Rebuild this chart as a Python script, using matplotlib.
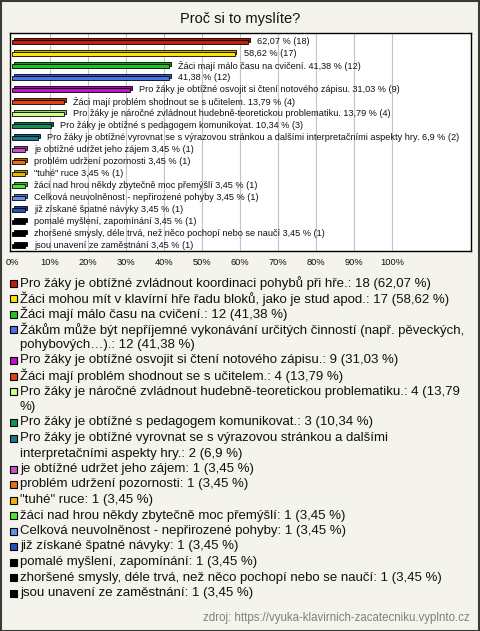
import numpy as np
import matplotlib
matplotlib.use("Agg")
import matplotlib.pyplot as plt
from matplotlib.patches import Rectangle
from matplotlib.colors import to_rgb

title = "Proč si to myslíte?"
source = "zdroj: https://vyuka-klavirnich-zacatecniku.vyplnto.cz"

categories = [
    "Pro žáky je obtížné zvládnout koordinaci pohybů při hře.",
    "Žáci mohou mít v klavírní hře řadu bloků, jako je stud apod.",
    "Žáci mají málo času na cvičení.",
    "Žákům může být nepříjemné vykonávání určitých činností (např. pěveckých, pohybových…).",
    "Pro žáky je obtížné osvojit si čtení notového zápisu.",
    "Žáci mají problém shodnout se s učitelem.",
    "Pro žáky je náročné zvládnout hudebně-teoretickou problematiku.",
    "Pro žáky je obtížné s pedagogem komunikovat.",
    "Pro žáky je obtížné vyrovnat se s výrazovou stránkou a dalšími interpretačními aspekty hry.",
    "je obtížné udržet jeho zájem",
    "problém udržení pozornosti",
    "\"tuhé\" ruce",
    "žáci nad hrou někdy zbytečně moc přemýšlí",
    "Celková neuvolněnost - nepřirozené pohyby",
    "již získané špatné návyky",
    "pomalé myšlení, zapomínání",
    "zhoršené smysly, déle trvá, než něco pochopí nebo se naučí",
    "jsou unavení ze zaměstnání",
]
counts = [18, 17, 12, 12, 9, 4, 4, 3, 2, 1, 1, 1, 1, 1, 1, 1, 1, 1]
percents = [62.07, 58.62, 41.38, 41.38, 31.03, 13.79, 13.79, 10.34, 6.9,
            3.45, 3.45, 3.45, 3.45, 3.45, 3.45, 3.45, 3.45, 3.45]
colors = ["#c41e0c", "#ffe600", "#1ec31e", "#4a74ee", "#c012cc", "#e2420e",
          "#ccff88", "#129058", "#1e7690", "#c452c4", "#e8700e", "#e8b40e",
          "#52e232", "#6492e0", "#2452b4", "#000000", "#000000", "#000000"]
ticks = [0, 10, 20, 30, 40, 50, 60, 70, 80, 90, 100]
tick_labels = [f"{t}%" for t in ticks]

W, H = 480, 631
BG = "#f4f3ec"
FONT = "Liberation Sans"


def fmt(v):
    return f"{v:g}".replace(".", ",")


fig = plt.figure(figsize=(W / 100, H / 100), dpi=100, facecolor=BG)
fig.patches.append(Rectangle((0.5 / W, 0.5 / H), 1 - 1.5 / W, 1 - 1.5 / H,
                             transform=fig.transFigure, fill=False,
                             edgecolor="#3a3a3a", lw=1.5))

fig.text(0.5, 1 - 19 / H, title, ha="center", va="center",
         fontsize=10.5, family=FONT, color="#111111")

px_per_pct = 3.8
ax = fig.add_axes([10 / W, 1 - 251 / H, 461 / W, 218 / H])
ax.set_facecolor("white")
ax.set_xlim(-2 / px_per_pct, 459 / px_per_pct)
ax.set_ylim(17.46, -0.71)
ax.set_xticks([])
ax.set_yticks([])
for s in ax.spines.values():
    s.set_linewidth(1.0)
    s.set_color("black")
    s.set_zorder(5)
for t in ticks[1:]:
    ax.axvline(t, color="#c4c4c4", lw=0.8, zorder=0)

n = len(categories)
y = np.arange(n)
dark = [tuple(c * 0.8 for c in to_rgb(col)) for col in colors]
ax.barh(y - 0.12, percents, left=0.45, height=0.32, color=dark,
        edgecolor="black", lw=0.6, zorder=2)
ax.barh(y + 0.07, percents, height=0.32, color=colors,
        edgecolor="black", lw=0.6, zorder=3)

fig.canvas.draw()
renderer = fig.canvas.get_renderer()
ax_right = ax.get_window_extent(renderer).x1
for i in range(n):
    lab = f"{categories[i]} {fmt(percents[i])} % ({counts[i]})"
    t = ax.annotate(lab, (percents[i], y[i]), xytext=(6.5, 0),
                    textcoords="offset points", ha="left", va="center",
                    fontsize=6.55, family=FONT, color="#111111", zorder=4)
    bb = t.get_window_extent(renderer)
    if bb.x1 > ax_right - 2:
        t.set_text(f"{fmt(percents[i])} % ({counts[i]})")

for t, tl in zip(ticks, tick_labels):
    fig.text((12 + t * px_per_pct) / W, 1 - 263 / H, tl, ha="center",
             va="center", fontsize=6.7, family=FONT, color="#111111")

# legend
leg_fs = 9.55
max_right = 467
line_h = 15.5
ycur = 283
measure = fig.text(0, 0, "", fontsize=leg_fs, family=FONT)


def width_px(s):
    measure.set_text(s)
    return measure.get_window_extent(renderer).width


for i in range(n):
    full = f"{categories[i]}: {counts[i]} ({fmt(percents[i])} %)"
    words = full.split(" ")
    lines, cur = [], ""
    for w in words:
        cand = w if not cur else cur + " " + w
        if 20 + width_px(cand) > max_right and cur:
            lines.append(cur)
            cur = w
        else:
            cur = cand
    lines.append(cur)
    fig.patches.append(Rectangle((9.5 / W, 1 - (ycur + 3.5) / H), 7 / W, 7 / H,
                                 transform=fig.transFigure, facecolor=colors[i],
                                 edgecolor="black", lw=0.8))
    for ln in lines:
        fig.text(20 / W, 1 - ycur / H, ln, ha="left", va="center",
                 fontsize=leg_fs, family=FONT, color="#111111")
        ycur += line_h
measure.set_text("")

fig.text(470 / W, 1 - 618 / H, source, ha="right", va="center",
         fontsize=8.3, family=FONT, color="#808080")

fig.savefig("out.png", dpi=100, facecolor=BG)
